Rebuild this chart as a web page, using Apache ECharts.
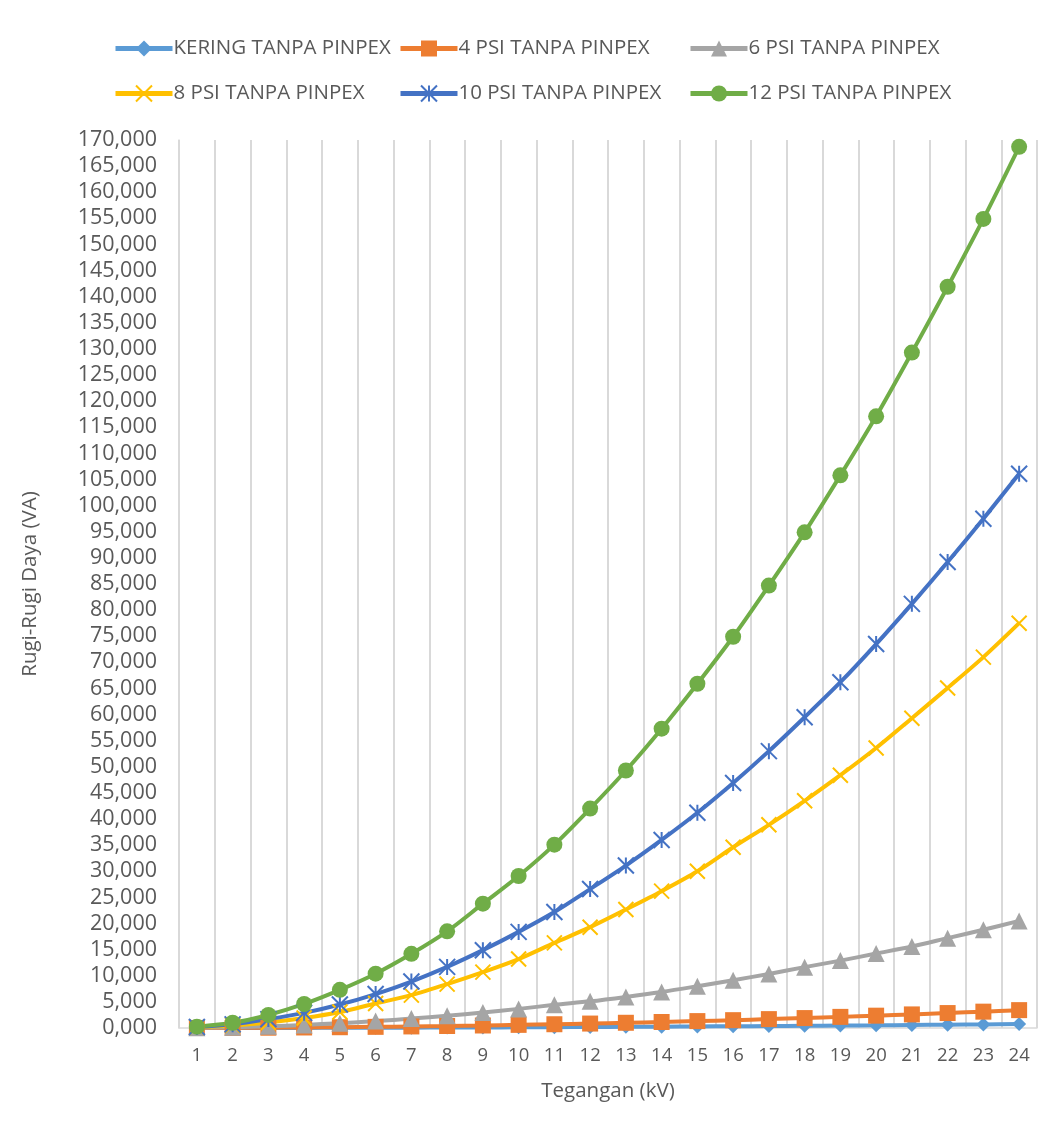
<!DOCTYPE html>
<html>
<head>
<meta charset="utf-8">
<script src="https://cdn.jsdelivr.net/npm/echarts@6/dist/echarts.min.js"></script>
<style>
  html, body { margin: 0; padding: 0; background: #fff; }
  #chart { width: 1059px; height: 1131px; }
</style>
</head>
<body>
<div id="chart"></div>
<script>
// Tegangan (kV) categories
const voltages = ['1','2','3','4','5','6','7','8','9','10','11','12','13','14','15','16','17','18','19','20','21','22','23','24'];

// Rugi-rugi daya (VA) per pressure condition
const kering = [2, 6, 12, 22, 34, 48, 65, 85, 105, 130, 160, 190, 220, 255, 295, 335, 380, 425, 470, 520, 575, 630, 690, 750];
const psi4   = [10, 25, 55, 100, 150, 220, 300, 380, 480, 600, 720, 850, 1000, 1150, 1320, 1500, 1700, 1900, 2130, 2360, 2600, 2860, 3130, 3420];
const psi6   = [40, 150, 330, 590, 920, 1320, 1800, 2350, 2970, 3660, 4430, 5100, 5950, 6900, 8000, 9150, 10350, 11650, 12900, 14250, 15600, 17200, 18800, 20500];
const psi8   = [150, 500, 1050, 1900, 3050, 4700, 6300, 8400, 10700, 13200, 16300, 19300, 22700, 26200, 30000, 34600, 38900, 43500, 48400, 53600, 59300, 65100, 71000, 77500];
const psi10  = [200, 700, 1700, 2900, 4500, 6500, 8900, 11700, 14900, 18400, 22200, 26600, 31100, 36000, 41200, 46900, 53000, 59500, 66200, 73500, 81200, 89200, 97500, 106100];
const psi12  = [250, 1000, 2500, 4600, 7300, 10400, 14200, 18500, 23800, 29100, 35100, 42000, 49300, 57300, 65900, 74900, 84700, 94900, 105800, 117100, 129300, 141900, 154900, 168700];

const seriesNames = ['KERING TANPA PINPEX', '4 PSI TANPA PINPEX', '6 PSI TANPA PINPEX',
                     '8 PSI TANPA PINPEX', '10 PSI TANPA PINPEX', '12 PSI TANPA PINPEX'];

const FONT = 'Open Sans';
const TEXT = '#595959';

const crossPath = 'path://M0 0L10 10M10 0L0 10';
const starPath = 'path://M0 0L10 10M10 0L0 10M5 0L5 10';

function lineSeries(name, data, color, symbol, size, stroked) {
  return {
    name: name,
    type: 'line',
    data: data,
    smooth: 0.3,
    symbol: symbol,
    symbolSize: size,
    showSymbol: true,
    lineStyle: { color: color, width: 4 },
    itemStyle: stroked
      ? { color: color, borderColor: color, borderWidth: 2 }
      : { color: color, borderWidth: 0 },
    emphasis: { disabled: true }
  };
}

const legendCols = [113, 398, 688];
const legendRows = [38, 83];
const legends = seriesNames.map((n, i) => ({
  data: [n],
  left: legendCols[i % 3],
  top: legendRows[Math.floor(i / 3)],
  padding: 0,
  itemWidth: 57,
  itemHeight: 20,
  itemStyle: {},
  lineStyle: { width: 5 },
  textStyle: { fontFamily: FONT, fontSize: 20.5, color: TEXT, padding: [0, 0, 0, -4] }
}));

const chart = echarts.init(document.getElementById('chart'), null, { renderer: 'canvas' });
chart.setOption({
  backgroundColor: '#ffffff',
  animation: false,
  legend: legends,
  grid: { left: 179, right: 22, top: 140, bottom: 103, containLabel: false },
  xAxis: {
    type: 'category',
    data: voltages,
    boundaryGap: true,
    name: 'Tegangan (kV)',
    nameLocation: 'middle',
    nameGap: 53,
    nameTextStyle: { fontFamily: FONT, fontSize: 20.5, color: TEXT },
    axisLine: { show: true, lineStyle: { color: '#d9d9d9', width: 1.5 } },
    axisTick: { show: false },
    axisLabel: { fontFamily: FONT, fontSize: 18.5, color: TEXT, margin: 18, interval: 0 },
    splitLine: { show: true, interval: 0, lineStyle: { color: '#d9d9d9', width: 2 } }
  },
  yAxis: {
    type: 'value',
    min: 0,
    max: 170000,
    interval: 5000,
    name: 'Rugi-Rugi Daya (VA)',
    nameLocation: 'middle',
    nameGap: 138,
    nameTextStyle: { fontFamily: FONT, fontSize: 20.5, color: TEXT },
    axisLine: { show: true, lineStyle: { color: '#d9d9d9', width: 1.5 } },
    axisTick: { show: false },
    axisLabel: {
      fontFamily: FONT, fontSize: 21.5, color: TEXT, margin: 22,
      formatter: v => (v / 1000) + ',000'
    },
    splitLine: { show: false }
  },
  series: [
    lineSeries(seriesNames[0], kering, '#5B9BD5', 'diamond', 14, false),
    lineSeries(seriesNames[1], psi4, '#ED7D31', 'rect', 16, false),
    lineSeries(seriesNames[2], psi6, '#A5A5A5', 'triangle', 17, false),
    lineSeries(seriesNames[3], psi8, '#FFC000', crossPath, 15, true),
    lineSeries(seriesNames[4], psi10, '#4472C4', starPath, 16, true),
    lineSeries(seriesNames[5], psi12, '#70AD47', 'circle', 16, false)
  ]
});
</script>
</body>
</html>
